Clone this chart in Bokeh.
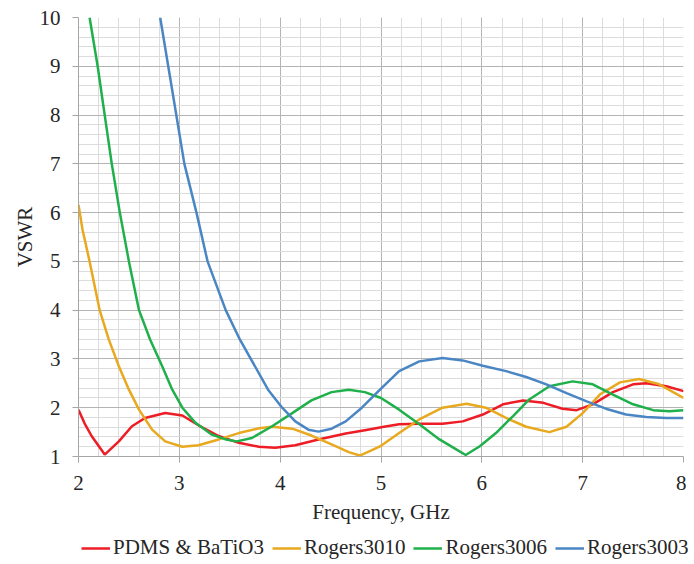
from bokeh.plotting import figure
from bokeh.layouts import column
from bokeh.models import Range1d, SingleIntervalTicker, Legend, LegendItem
from bokeh.embed import file_html
from bokeh.resources import INLINE

# ---- data ----
red_f = [2.00, 2.06, 2.13, 2.26, 2.40, 2.53, 2.66, 2.86, 3.03, 3.19, 3.39, 3.59, 3.79, 3.95, 4.15, 4.38,
         4.65, 4.84, 5.03, 5.18, 5.38, 5.61, 5.81, 6.01, 6.21, 6.41, 6.61, 6.80, 6.94, 7.10, 7.30, 7.50,
         7.63, 7.83, 8.00]
red_v = [1.96, 1.68, 1.42, 1.04, 1.31, 1.62, 1.79, 1.89, 1.84, 1.64, 1.42, 1.28, 1.20, 1.18, 1.23, 1.35,
         1.47, 1.54, 1.61, 1.66, 1.67, 1.67, 1.72, 1.86, 2.07, 2.15, 2.10, 1.98, 1.95, 2.07, 2.32, 2.48,
         2.50, 2.44, 2.34]

orange_f = [2.00, 2.04, 2.11, 2.21, 2.30, 2.40, 2.50, 2.60, 2.73, 2.86, 3.03, 3.19, 3.39, 3.59, 3.79, 3.92,
            4.12, 4.31, 4.51, 4.68, 4.79, 4.91, 5.00, 5.18, 5.38, 5.61, 5.85, 6.04, 6.24, 6.44, 6.67, 6.84,
            7.00, 7.17, 7.37, 7.56, 7.76, 8.00]
orange_v = [6.16, 5.65, 5.00, 4.00, 3.40, 2.85, 2.37, 1.96, 1.55, 1.31, 1.20, 1.23, 1.35, 1.48, 1.58, 1.61,
            1.57, 1.43, 1.25, 1.09, 1.02, 1.13, 1.22, 1.48, 1.76, 2.00, 2.08, 2.00, 1.79, 1.61, 1.50, 1.61,
            1.89, 2.27, 2.52, 2.59, 2.48, 2.20]

green_f = [2.11, 2.19, 2.26, 2.33, 2.41, 2.50, 2.60, 2.71, 2.83, 2.93, 3.03, 3.16, 3.32, 3.46, 3.57, 3.72,
           3.92, 4.12, 4.31, 4.51, 4.68, 4.84, 5.00, 5.18, 5.38, 5.58, 5.75, 5.84, 5.98, 6.14, 6.31, 6.47,
           6.67, 6.90, 7.10, 7.30, 7.50, 7.70, 7.86, 8.00]
green_v = [10.0, 9.00, 8.00, 7.00, 6.00, 5.00, 4.00, 3.40, 2.85, 2.37, 2.00, 1.69, 1.45, 1.35, 1.31, 1.38,
           1.62, 1.89, 2.15, 2.32, 2.37, 2.32, 2.20, 1.96, 1.66, 1.35, 1.14, 1.03, 1.21, 1.48, 1.83, 2.17,
           2.44, 2.54, 2.48, 2.27, 2.07, 1.95, 1.93, 1.95]

blue_f = [2.81, 2.89, 2.97, 3.05, 3.17, 3.28, 3.46, 3.60, 3.75, 3.88, 4.02, 4.15, 4.28, 4.38, 4.51, 4.65,
          4.81, 5.00, 5.18, 5.38, 5.61, 5.81, 6.01, 6.24, 6.44, 6.64, 6.84, 7.04, 7.23, 7.43, 7.63, 7.83, 8.00]
blue_v = [10.0, 9.00, 8.00, 7.00, 6.00, 5.00, 4.00, 3.40, 2.85, 2.37, 2.00, 1.72, 1.55, 1.51, 1.57, 1.72,
          2.00, 2.39, 2.75, 2.95, 3.02, 2.97, 2.86, 2.75, 2.63, 2.48, 2.30, 2.13, 1.98, 1.86, 1.81, 1.79, 1.79]

series = [
    ("PDMS & BaTiO3", red_f, red_v, "#ee1c25"),
    ("Rogers3010", orange_f, orange_v, "#e8a91e"),
    ("Rogers3006", green_f, green_v, "#1fb04b"),
    ("Rogers3003", blue_f, blue_v, "#4a86c4"),
]

FONT = "Liberation Serif, Times New Roman, Times, serif"
FS = "21px"
TXT = "#262626"

p = figure(width=686, height=533, output_backend="svg", toolbar_location=None,
           x_range=Range1d(2, 8), y_range=Range1d(1, 10),
           min_border_left=78, min_border_right=3, min_border_top=17, min_border_bottom=77)
p.outline_line_color = None

xt = SingleIntervalTicker(interval=1, num_minor_ticks=5)
yt = SingleIntervalTicker(interval=1, num_minor_ticks=5)
p.xaxis.ticker = xt
p.yaxis.ticker = yt
p.xgrid.ticker = xt
p.ygrid.ticker = yt

for g in (p.xgrid, p.ygrid):
    g.grid_line_color = "#b4b4b4"
    g.grid_line_width = 1
    g.minor_grid_line_color = "#dcdcdc"
    g.minor_grid_line_width = 1

for ax in (p.xaxis, p.yaxis):
    ax.axis_line_color = "#a6a6a6"
    ax.major_tick_line_color = "#a6a6a6"
    ax.major_tick_out = 6
    ax.major_tick_in = 0
    ax.minor_tick_line_color = None
    ax.major_label_text_font = FONT
    ax.major_label_text_font_size = FS
    ax.major_label_text_color = TXT
    ax.axis_label_text_font = FONT
    ax.axis_label_text_font_size = FS
    ax.axis_label_text_font_style = "normal"
    ax.axis_label_text_color = TXT

p.xaxis.axis_label = "Frequency, GHz"
p.yaxis.axis_label = "VSWR"
p.xaxis.major_label_standoff = 13
p.yaxis.major_label_standoff = 12
p.xaxis.axis_label_standoff = 7
p.yaxis.axis_label_standoff = 0

for name, f, v, c in series:
    p.line(f, v, line_color=c, line_width=2.5)

# legend strip below the chart (its lines lie outside its own ranges, only the legend shows)
p2 = figure(width=692, height=28, output_backend="svg", toolbar_location=None,
            x_range=Range1d(100, 101), y_range=Range1d(100, 101),
            x_axis_location=None, y_axis_location=None,
            min_border_left=0, min_border_right=0, min_border_top=0, min_border_bottom=0)
p2.outline_line_color = None
p2.grid.visible = False
items = []
for name, f, v, c in series:
    r = p2.line(f, v, line_color=c, line_width=2.5)
    items.append(LegendItem(label=name, renderers=[r]))

legend = Legend(items=items, orientation="horizontal", location=(3, 1),
                label_text_font=FONT, label_text_font_size=FS, label_text_color=TXT,
                glyph_width=29, glyph_height=20, label_standoff=3, spacing=8,
                padding=2, margin=0, border_line_color=None, background_fill_alpha=0)
p2.add_layout(legend)

open("out.html", "w").write(file_html(column(p, p2), INLINE))
